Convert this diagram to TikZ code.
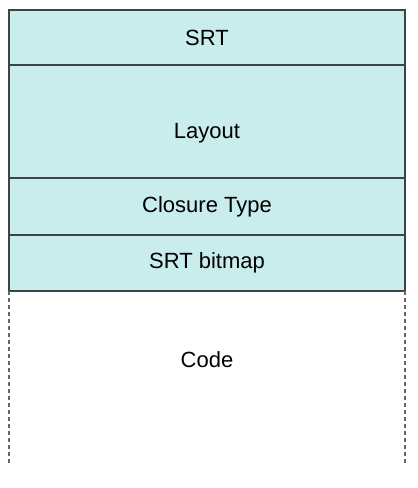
\documentclass[tikz,border=0pt]{standalone}
\usepackage{fontspec}
\setmainfont{Liberation Sans}
\usepackage{xcolor}
\usepackage{tikz}
\usetikzlibrary{positioning}
\definecolor{cellfill}{RGB}{201,237,237}
\definecolor{cellline}{RGB}{60,68,68}
\tikzset{cell/.style={draw=cellline, line width=2pt, fill=cellfill, minimum width=396pt, inner sep=0pt, outer sep=0pt, font=\fontsize{22}{26}\selectfont}}
\tikzset{codeside/.style={gray!80!black, line width=2pt, dash pattern=on 4pt off 3pt}}

\begin{document}
\begin{tikzpicture}[x=1pt, y=-1pt]
\useasboundingbox (0,0) rectangle (418,488);
\node[cell, minimum height=55pt, anchor=north] (srt) at (207,10) {SRT};
\node[cell, minimum height=113pt, below=0pt of srt,
  label={[font=\fontsize{22}{26}\selectfont, yshift=-12pt]center:Layout}] (layout) {};
\node[cell, minimum height=57pt, below=0pt of layout] (closure) {Closure Type};
\node[cell, minimum height=56pt, below=0pt of closure] (bitmap) {SRT bitmap};
\node[minimum width=396pt, minimum height=138pt, inner sep=0pt, outer sep=0pt, below=0pt of bitmap, font=\fontsize{22}{26}\selectfont] (code) {Code};
\coordinate (codeL) at (9,463);
\coordinate (codeR) at (405,463);
\draw[codeside] (code.north west) -- (codeL);
\draw[codeside] (code.north east) -- (codeR);
\end{tikzpicture}
\end{document}
